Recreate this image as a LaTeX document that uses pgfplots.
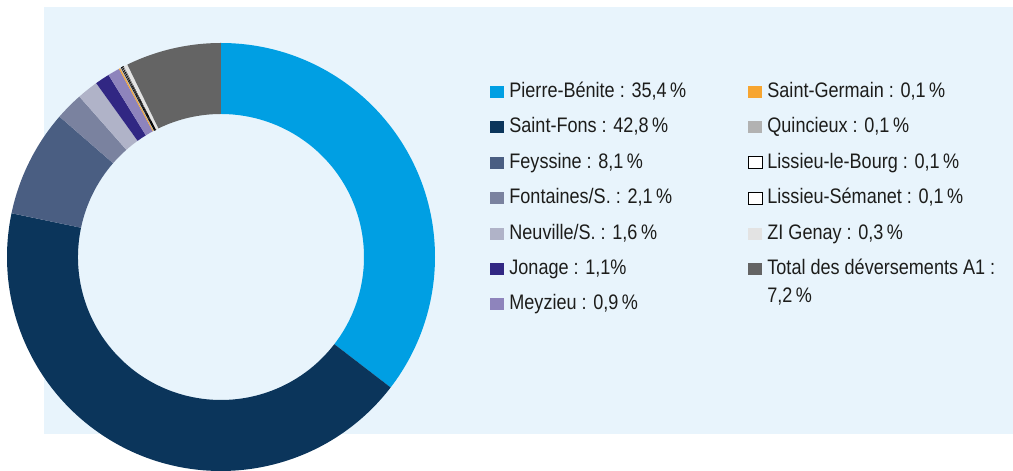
\documentclass[border=0pt]{standalone}
\usepackage{pgfplots}
\pgfplotsset{compat=1.18}
\usepackage{pgfplotstable}
\usepackage{fontspec}
\setmainfont{Liberation Sans}[FakeStretch=0.86]

\definecolor{bgblue}{HTML}{E8F4FC}
\definecolor{txt}{HTML}{1D1D1B}
\definecolor{c0}{HTML}{009FE3}
\definecolor{c1}{HTML}{0B355B}
\definecolor{c2}{HTML}{4A5E82}
\definecolor{c3}{HTML}{7A829F}
\definecolor{c4}{HTML}{B0B3C8}
\definecolor{c5}{HTML}{312783}
\definecolor{c6}{HTML}{8E84BC}
\definecolor{c7}{HTML}{F7A530}
\definecolor{c8}{HTML}{B2B2B2}
\definecolor{c9}{HTML}{FFFFFF}
\definecolor{c10}{HTML}{FFFFFF}
\definecolor{c11}{HTML}{E3E3E3}
\definecolor{c12}{HTML}{646464}

\tikzset{
  s0/.style={fill=c0}, s1/.style={fill=c1}, s2/.style={fill=c2},
  s3/.style={fill=c3}, s4/.style={fill=c4}, s5/.style={fill=c5},
  s6/.style={fill=c6}, s7/.style={fill=c7}, s8/.style={fill=c8},
  s9/.style={fill=c9,draw=black,line width=0.3pt},
  s10/.style={fill=c10,draw=black,line width=0.3pt},
  s11/.style={fill=c11}, s12/.style={fill=c12},
}

% share of each outlet, in %
\pgfplotstableread{
value
35.4
42.8
8.1
2.1
1.6
1.1
0.9
0.1
0.1
0.1
0.1
0.3
7.2
}\pietable

% legend item: x of square (px), baseline y (px), style, text
\newcommand\legitem[4]{%
  \path[#3] (axis cs:#1,{471-#2-0.5}) rectangle (axis cs:{#1+14},{471-#2+11.5});
  \node[anchor=base west,inner sep=0pt,text=txt,font=\fontsize{10.5}{12}\selectfont]
    at (axis cs:{#1+19},{471-#2}) {#4};
}

\begin{document}
\begin{tikzpicture}
\pgfplotstablegetrowsof{\pietable}
\pgfmathtruncatemacro\lastrow{\pgfplotsretval-1}
\def\total{0}
\pgfplotsforeachungrouped \i in {0,...,\lastrow}{%
  \pgfplotstablegetelem{\i}{value}\of\pietable
  \pgfmathsetmacro\total{\total+\pgfplotsretval}}
% angles, clockwise from 12 o'clock
\def\cum{0}
\pgfplotsforeachungrouped \i in {0,...,\lastrow}{%
  \pgfplotstablegetelem{\i}{value}\of\pietable
  \pgfmathsetmacro\sa{90-\cum/\total*360}
  \pgfmathsetmacro\cum{\cum+\pgfplotsretval}
  \pgfmathsetmacro\ea{90-\cum/\total*360}
  \expandafter\xdef\csname sa\i\endcsname{\sa}
  \expandafter\xdef\csname ea\i\endcsname{\ea}}

\begin{axis}[
    x=0.5pt, y=0.5pt,
    xmin=0, xmax=1013, ymin=0, ymax=471,
    hide axis, clip=false,
]
\coordinate (ll) at (axis cs:0,0);
\coordinate (ur) at (axis cs:1013,471);
\fill[bgblue] (axis cs:44,37) rectangle (axis cs:1013,464);

\pgfplotsinvokeforeach{0,...,12}{%
  \edef\temp{\noexpand\path[s#1] (axis cs:221,214)
    ++(\csname sa#1\endcsname:107pt)
    arc[start angle=\csname sa#1\endcsname, end angle=\csname ea#1\endcsname, radius=107pt]
    -- ++(\csname ea#1\endcsname:-35.5pt)
    arc[start angle=\csname ea#1\endcsname, end angle=\csname sa#1\endcsname, radius=71.5pt]
    -- cycle;}%
  \temp
}

\legitem{490}{97.5}{s0}{Pierre-Bénite : 35,4\,\%}
\legitem{490}{132.9}{s1}{Saint-Fons : 42,8\,\%}
\legitem{490}{168.3}{s2}{Feyssine : 8,1\,\%}
\legitem{490}{203.7}{s3}{Fontaines/S. : 2,1\,\%}
\legitem{490}{239.1}{s4}{Neuville/S. : 1,6\,\%}
\legitem{490}{274.5}{s5}{Jonage : 1,1\%}
\legitem{490}{309.9}{s6}{Meyzieu : 0,9\,\%}

\legitem{748}{97.5}{s7}{Saint-Germain : 0,1\,\%}
\legitem{748}{132.9}{s8}{Quincieux : 0,1\,\%}
\legitem{748}{168.3}{s9}{Lissieu-le-Bourg : 0,1\,\%}
\legitem{748}{203.7}{s10}{Lissieu-Sémanet : 0,1\,\%}
\legitem{748}{239.1}{s11}{ZI Genay : 0,3\,\%}
\legitem{748}{274.5}{s12}{Total des déversements A1 :}
\node[anchor=base west,inner sep=0pt,text=txt,font=\fontsize{10.5}{12}\selectfont]
  at (axis cs:767,{471-302.5}) {7,2\,\%};
\end{axis}
\pgfresetboundingbox
\path (ll) (ur);
\end{tikzpicture}
\end{document}
